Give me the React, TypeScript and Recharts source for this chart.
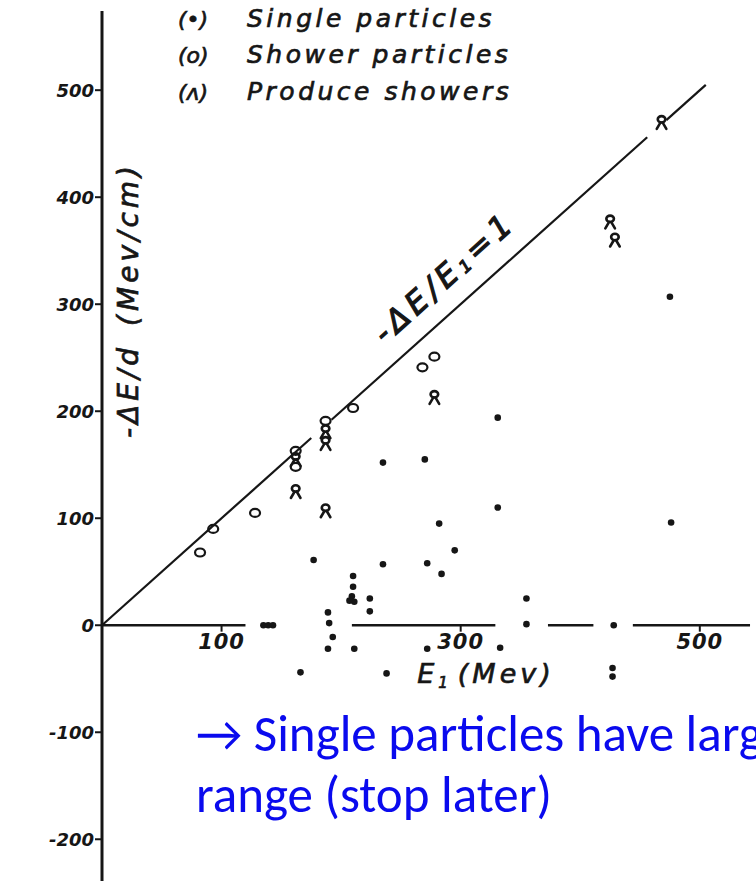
import React from 'react';
import { ScatterChart, Scatter, XAxis, YAxis, ReferenceLine } from 'recharts';

// E1 (Mev) vs -dE/d (Mev/cm)
const singleParticles = [
  { e: 135, v: 0 }, { e: 139, v: 0 }, { e: 143, v: 0 },
  { e: 166, v: -44 },
  { e: 177, v: 61 },
  { e: 189, v: 12 }, { e: 190, v: 2 }, { e: 193, v: -11 }, { e: 189, v: -22 },
  { e: 210, v: 46 }, { e: 210, v: 36 }, { e: 209, v: 27 }, { e: 211, v: 22 }, { e: 207, v: 23 },
  { e: 211, v: -22 },
  { e: 224, v: 25 }, { e: 224, v: 13 },
  { e: 235, v: 152 }, { e: 235, v: 57 }, { e: 238, v: -45 },
  { e: 270, v: 155 }, { e: 272, v: 58 }, { e: 272, v: -22 },
  { e: 282, v: 95 }, { e: 284, v: 48 }, { e: 295, v: 70 },
  { e: 331, v: 194 }, { e: 331, v: 110 }, { e: 333, v: -21 },
  { e: 355, v: 25 }, { e: 355, v: 1 },
  { e: 428, v: 0 }, { e: 427, v: -40 }, { e: 427, v: -48 },
  { e: 475, v: 307 }, { e: 476, v: 96 },
];

const showerParticles = [
  { e: 82, v: 68 }, { e: 93, v: 90 }, { e: 128, v: 105 },
  { e: 162, v: 163 }, { e: 162, v: 148 },
  { e: 187, v: 191 },
  { e: 210, v: 203 },
  { e: 268, v: 241 }, { e: 278, v: 251 },
];

const produceShowers = [
  { e: 162, v: 155 }, { e: 162, v: 125 },
  { e: 187, v: 181 }, { e: 187, v: 170 }, { e: 187, v: 107 },
  { e: 278, v: 213 },
  { e: 425, v: 377 }, { e: 429, v: 360 },
  { e: 468, v: 470 },
];

const yTicks = [-200, -100, 0, 100, 200, 300, 400, 500];
const xTicks = [100, 300, 500];

// pieces of the E axis, broken where points sit on it
const axisPieces = [[0, 120], [209, 329], [373, 411], [444, 542]];
// the -dE/E1 = 1 line, broken around crowded points
const unityPieces = [[0, 175], [192, 456], [472, 505]];

const INK = '#161616';
const hand = "'DejaVu Sans', sans-serif";

const Dot = (p: any) => <circle cx={p.cx} cy={p.cy} r={3.3} fill={INK} />;

const Ring = (p: any) => (
  <ellipse cx={p.cx} cy={p.cy} rx={5} ry={4} fill="none" stroke={INK} strokeWidth={2.2} />
);

// circle with two legs underneath
const Splash = (p: any) => (
  <g stroke={INK} strokeWidth={2.6} strokeLinecap="round" fill="none">
    <ellipse cx={p.cx} cy={p.cy - 3} rx={3.8} ry={3.2} />
    <path d={`M${p.cx - 1} ${p.cy} L${p.cx - 4.8} ${p.cy + 6.5} M${p.cx + 1} ${p.cy} L${p.cx + 4.8} ${p.cy + 6.5}`} />
  </g>
);

const legendRows = [
  { mark: '(•)', text: 'Single particles', y: 27 },
  { mark: '(o)', text: 'Shower particles', y: 63 },
  { mark: '(ʌ)', text: 'Produce showers', y: 100 },
];

export default function App() {
  return (
    <div style={{ position: 'absolute', left: 0, top: 0, width: 756, height: 881, overflow: 'hidden', background: '#fff' }}>
      <ScatterChart width={756} height={881} margin={{ top: 11, right: 0, bottom: 0, left: 0 }}>
        <XAxis type="number" dataKey="e" domain={[0, 547]} hide allowDataOverflow />
        <YAxis
          type="number"
          dataKey="v"
          domain={[-239, 574]}
          ticks={yTicks}
          width={102}
          allowDataOverflow
          interval={0}
          axisLine={{ stroke: INK, strokeWidth: 3 }}
          tickLine={{ stroke: INK, strokeWidth: 2 }}
          tickSize={7}
          tickMargin={1}
          tick={{ fill: INK, fontSize: 18, fontStyle: 'italic', fontWeight: 700, fontFamily: hand }}
        />
        {axisPieces.map(([a, b]) => (
          <ReferenceLine key={`ax${a}`} segment={[{ x: a, y: 0 }, { x: b, y: 0 }]} stroke={INK} strokeWidth={2.5} />
        ))}
        {xTicks.map((t) => (
          <ReferenceLine
            key={`t${t}`}
            segment={[{ x: t, y: 0 }, { x: t, y: -6 }]}
            stroke={INK}
            strokeWidth={2}
            label={{ value: String(t), position: 'bottom', offset: 2, fill: INK, fontSize: 21, fontStyle: 'italic', fontWeight: 700, fontFamily: hand, letterSpacing: 1 }}
          />
        ))}
        {unityPieces.map(([a, b]) => (
          <ReferenceLine key={`u${a}`} segment={[{ x: a, y: a }, { x: b, y: b }]} stroke={INK} strokeWidth={2.2} />
        ))}
        <Scatter name="Single particles" data={singleParticles} shape={Dot} isAnimationActive={false} />
        <Scatter name="Shower particles" data={showerParticles} shape={Ring} isAnimationActive={false} />
        <Scatter name="Produce showers" data={produceShowers} shape={Splash} isAnimationActive={false} />
      </ScatterChart>

      <svg width={756} height={881} style={{ position: 'absolute', left: 0, top: 0, pointerEvents: 'none' }}>
        <g fill={INK} stroke={INK} strokeWidth={0.7} fontFamily={hand} fontStyle="italic">
          {legendRows.map((r) => (
            <g key={r.text}>
              <text x={178} y={r.y} fontSize={22}>{r.mark}</text>
              <text x={247} y={r.y} fontSize={25} letterSpacing={3.5}>{r.text}</text>
            </g>
          ))}
          <text transform="translate(128,300) rotate(-90)" textAnchor="middle" dominantBaseline="central" fontSize={28} letterSpacing={4}>
            -ΔE/d<tspan dx={18}>(Mev/cm)</tspan>
          </text>
          <text transform="translate(444,277) rotate(-42)" textAnchor="middle" dominantBaseline="central" fontSize={31} letterSpacing={5} strokeWidth={1.2}>
            -ΔE/E<tspan dy={6} fontSize={17}>1</tspan><tspan dy={-6}>=1</tspan>
          </text>
          <text x={486} y={683} textAnchor="middle" fontSize={27} letterSpacing={4}>
            E<tspan dy={5} fontSize={15}>1</tspan><tspan dy={-5} dx={6}>(Mev)</tspan>
          </text>
        </g>
        <g fill="#0a0aee" fontFamily="Carlito, Calibri, Lato, sans-serif" fontSize={51}>
          <text x={196} y={751}>→ Single particles have larger</text>
          <text x={196} y={812}>range (stop later)</text>
        </g>
      </svg>
    </div>
  );
}
